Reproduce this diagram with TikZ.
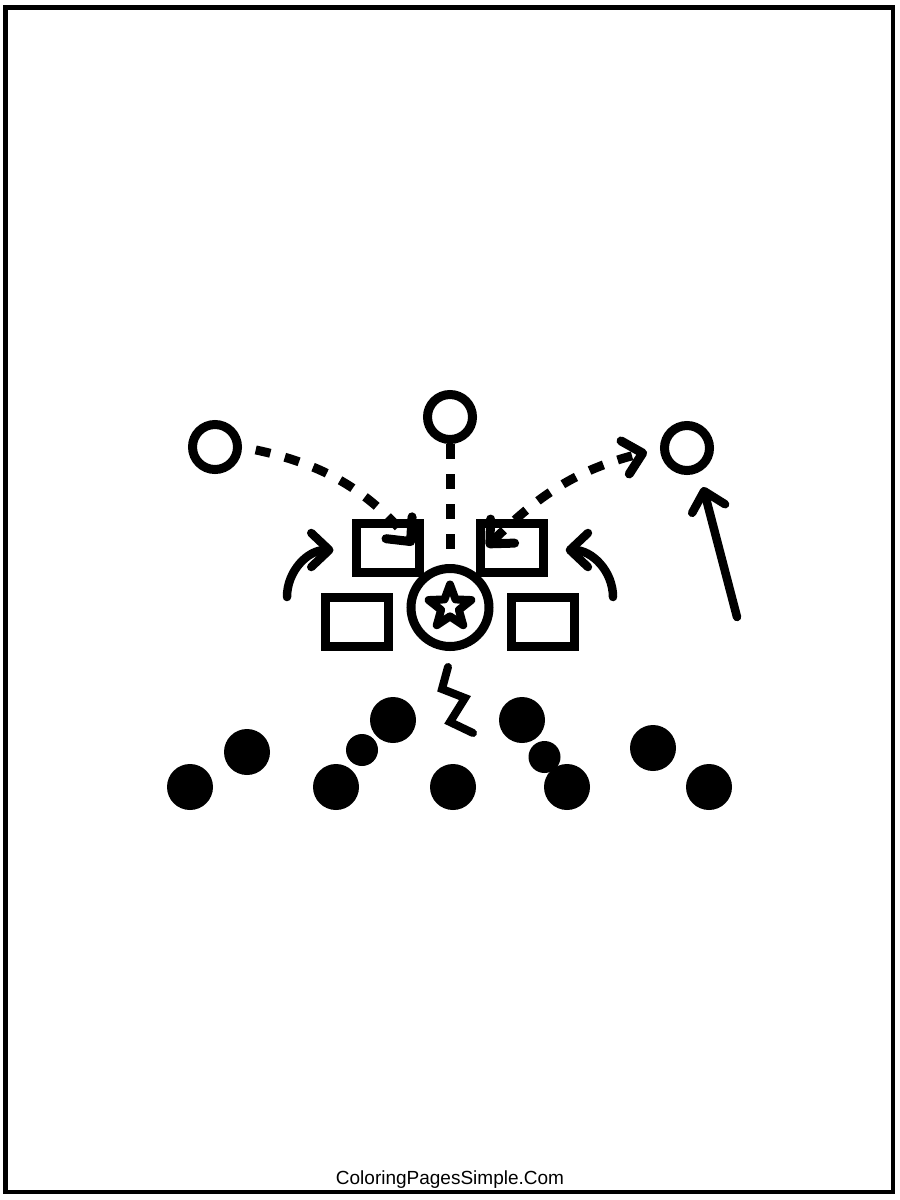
\documentclass[tikz,border=0pt]{standalone}
\usepackage{fontspec}
\setmainfont{Liberation Sans}
\usetikzlibrary{arrows.meta,shapes.geometric}

\begin{document}
\begin{tikzpicture}[x=1pt,y=-1pt,
    openplayer/.style={circle,draw,line width=9pt,minimum size=45pt,inner sep=0pt},
    blockbox/.style={rectangle,draw,line width=9pt,minimum width=63pt,minimum height=49pt,inner sep=0pt},
    defender/.style={circle,fill,inner sep=0pt,minimum size=#1},
    defender/.default=46pt,
    route/.style={line width=9pt,dash pattern=on 15pt off 15pt},
    move/.style={line width=8.5pt,line cap=round},
    >={Straight Barb[length=18pt,width=34pt,round]}]
        % Page and frame
        \useasboundingbox (0,0) rectangle (900,1200);
        \fill[white] (0,0) rectangle (900,1200);
        \draw[line width=4.5pt] (5.5,7.5) rectangle (893,1192);
        % Open players
        \node[openplayer] (lc) at (215,447) {};
        \node[openplayer] (tc) at (450,417) {};
        \node[openplayer] (rc) at (687,448) {};
        % Blockers
        \node[blockbox] (ul) at (387.5,548) {};
        \node[blockbox] (ur) at (511.7,548) {};
        \node[blockbox] (ll) at (356.7,621.7) {};
        \node[blockbox] (lr) at (543.3,621.7) {};
        % The star player in the middle
        \node[circle,draw,fill=white,line width=9pt,minimum size=78pt,inner sep=0pt] (qb) at (450,607.5) {};
        \node[star,star points=5,star point ratio=2.4,draw,line width=8pt,line join=round,minimum size=45pt,inner sep=0pt] (qbstar) at (450,607) {};
        % Dashed routes
        \draw[route,->,shorten <=14pt] (lc.east) to[out=-12,in=130] ([xshift=26pt,yshift=3pt]ul.center);
        \draw[route] (tc.south) -- ([yshift=15pt]qb.north);
        \draw[route,<->] ([xshift=-25pt,yshift=1pt]ur.center) to[out=45,in=194] ([xshift=-13pt,yshift=-4pt]rc.west);
        % Solid moves
        \coordinate (lsweep) at (287,597);
        \coordinate (rsweep) at (613,597);
        \coordinate (rrun) at (737,617);
        \draw[move,->] (lsweep) to[out=90,in=180] ([xshift=-18pt,yshift=-2pt]ul.west);
        \draw[move,->] (rsweep) to[out=90,in=0] ([xshift=18pt,yshift=-2pt]ur.east);
        \draw[move,->] (rrun) -- ([xshift=16pt,yshift=-12pt]rc.south);
        % Zigzag under the star
        \draw[line width=8pt,line cap=round] (448,667) -- (442,689) -- (465,698) -- (450,722) -- (473,733);
        % Defence
        \node[defender] (d1) at (190,787) {};
        \node[defender] (d2) at (247,752) {};
        \node[defender] (d3) at (336,787) {};
        \node[defender=32pt] (d4) at (362,750) {};
        \node[defender] (d5) at (393,720) {};
        \node[defender] (d6) at (453,787) {};
        \node[defender] (d7) at (522,720) {};
        \node[defender=32pt] (d8) at (544.5,757) {};
        \node[defender] (d9) at (567,787) {};
        \node[defender] (d10) at (653,748) {};
        \node[defender] (d11) at (709,787) {};
        % Footer
        \node[anchor=base,font=\fontsize{19}{22}\selectfont] (credit) at (450,1184) {ColoringPagesSimple.Com};
\end{tikzpicture}
\end{document}
